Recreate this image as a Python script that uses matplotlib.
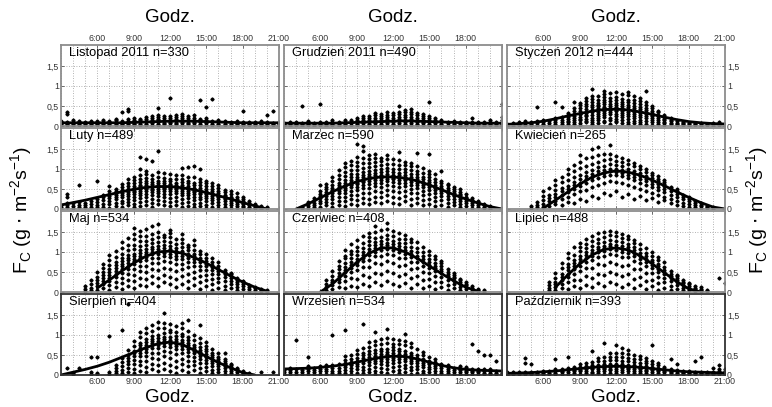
import matplotlib
matplotlib.use("Agg")
import matplotlib.pyplot as plt
from matplotlib.ticker import MultipleLocator, FixedLocator

plt.rcParams['font.family'] = ['Liberation Sans', 'DejaVu Sans']

# ---------------- data ----------------
titles = ["Listopad 2011 n=330", "Grudzień 2011 n=490", "Styczeń 2012 n=444",
          "Luty n=489", "Marzec n=590", "Kwiecień n=265",
          "Maj n=534", "Czerwiec n=408", "Lipiec n=488",
          "Sierpień n=404", "Wrzesień n=534", "Październik n=393"]

tick_hours = [6, 9, 12, 15, 18, 21]
tick_labels = ["6:00", "9:00", "12:00", "15:00", "18:00", "21:00"]
ytick_vals = [0, 0.5, 1, 1.5]
ytick_labels = ["0", "0,5", "1", "1,5"]

# fitted curves (hours, values in g m-2 s-1)
curve_hours = [3, 4, 5, 6, 7, 8, 9, 10, 11, 12, 13, 14, 15, 16, 17, 18, 19, 20, 21]
curve_lis = [0.08, 0.08, 0.08, 0.08, 0.08, 0.08, 0.09, 0.10, 0.11, 0.12, 0.12, 0.12, 0.11, 0.10, 0.09, 0.08, 0.08, 0.08, 0.08]
curve_gru = [0.07, 0.07, 0.07, 0.07, 0.07, 0.08, 0.09, 0.10, 0.11, 0.12, 0.13, 0.12, 0.11, 0.10, 0.09, 0.08, 0.07, 0.07, 0.07]
curve_sty = [0.04, 0.06, 0.08, 0.12, 0.18, 0.25, 0.31, 0.37, 0.41, 0.42, 0.40, 0.35, 0.29, 0.22, 0.16, 0.11, 0.08, 0.06, 0.05]
curve_lut = [0.10, 0.16, 0.22, 0.29, 0.36, 0.43, 0.49, 0.54, 0.56, 0.56, 0.53, 0.48, 0.41, 0.33, 0.25, 0.16, 0.08, 0.00, None]
curve_mar = [None, 0.00, 0.13, 0.28, 0.43, 0.57, 0.68, 0.76, 0.80, 0.80, 0.77, 0.70, 0.60, 0.48, 0.36, 0.25, 0.15, 0.06, 0.00]
curve_kwi = [None, None, None, 0.02, 0.22, 0.42, 0.62, 0.79, 0.90, 0.95, 0.92, 0.84, 0.72, 0.58, 0.43, 0.29, 0.16, 0.05, 0.00]
curve_maj = [None, None, None, 0.10, 0.30, 0.52, 0.72, 0.89, 1.00, 1.02, 0.97, 0.86, 0.72, 0.56, 0.40, 0.25, 0.12, 0.02, None]
curve_cze = [None, None, None, 0.00, 0.20, 0.47, 0.74, 0.96, 1.10, 1.10, 1.00, 0.84, 0.65, 0.46, 0.28, 0.12, 0.02, None, None]
curve_lip = [None, None, None, None, 0.12, 0.42, 0.70, 0.92, 1.06, 1.10, 1.05, 0.90, 0.70, 0.48, 0.26, 0.08, 0.00, None, None]
curve_sie = [0.00, 0.07, 0.14, 0.22, 0.32, 0.44, 0.56, 0.68, 0.78, 0.82, 0.76, 0.62, 0.46, 0.31, 0.18, 0.06, 0.00, None, None]
curve_wrz = [0.15, 0.16, 0.17, 0.19, 0.22, 0.26, 0.32, 0.38, 0.44, 0.47, 0.46, 0.40, 0.32, 0.24, 0.18, 0.14, 0.12, 0.11, 0.10]
curve_paz = [0.04, 0.05, 0.06, 0.08, 0.10, 0.13, 0.16, 0.19, 0.21, 0.22, 0.21, 0.19, 0.16, 0.13, 0.10, 0.08, 0.07, 0.06, 0.05]

# scatter points: (hour, [values in 0.01 g m-2 s-1])
pts_lis = [(3.0, [1, 4, 7, 10, 13]), (3.5, [2, 5, 8, 11, 29, 36]), (4.0, [1, 4, 7, 11, 16]), (4.5, [2, 6, 9, 12]),
           (5.0, [1, 4, 8, 11]), (5.5, [3, 6, 9, 13]), (6.0, [2, 5, 8, 12]), (6.5, [1, 4, 7, 10, 14]),
           (7.0, [2, 5, 9, 12]), (7.5, [3, 6, 10, 14, 17]), (8.0, [2, 5, 8, 12, 35]), (8.5, [3, 6, 9, 13, 18, 37, 42]),
           (9.0, [2, 5, 8, 12, 16, 20]), (9.5, [3, 6, 10, 14, 18]), (10.0, [2, 5, 9, 13, 17, 22]),
           (10.5, [3, 7, 11, 15, 19, 24]), (11.0, [2, 6, 10, 14, 18, 23, 28, 44]), (11.5, [4, 8, 12, 16, 21, 26]),
           (12.0, [3, 7, 11, 15, 19, 24, 69]), (12.5, [4, 8, 12, 17, 22, 27]), (13.0, [3, 7, 11, 15, 20, 25, 30]),
           (13.5, [4, 8, 12, 16, 21, 26]), (14.0, [3, 7, 11, 15, 20, 27]), (14.5, [2, 6, 10, 14, 18, 65]),
           (15.0, [3, 7, 11, 15, 20, 47]), (15.5, [2, 6, 9, 13, 67]), (16.0, [3, 6, 10, 14]), (16.5, [2, 5, 9, 12]),
           (17.0, [3, 6, 10]), (17.5, [2, 5, 8, 12]), (18.0, [3, 6, 9, 37]), (18.5, [2, 5, 8, 11]),
           (19.0, [3, 6, 10]), (19.5, [2, 5, 8, 12]), (20.0, [3, 6, 9, 27]), (20.5, [2, 5, 8, 37]), (21.0, [3, 6, 10])]
pts_gru = [(3.0, [2, 5, 8]), (3.5, [1, 4, 7, 11]), (4.0, [2, 5, 9]), (4.5, [1, 4, 8, 49]), (5.0, [2, 5, 9, 13]),
           (5.5, [1, 4, 8]), (6.0, [2, 6, 10, 54]), (6.5, [1, 5, 9]), (7.0, [2, 6, 10, 14]), (7.5, [1, 5, 9]),
           (8.0, [2, 6, 10, 14]), (8.5, [3, 7, 11, 16]), (9.0, [2, 6, 10, 14, 19]), (9.5, [3, 7, 11, 16, 21, 26]),
           (10.0, [2, 6, 10, 14, 19, 24]), (10.5, [3, 7, 11, 16, 21, 27, 32]), (11.0, [2, 6, 10, 15, 20, 25, 30]),
           (11.5, [3, 7, 12, 17, 22, 28, 34]), (12.0, [2, 6, 11, 16, 21, 27, 33]),
           (12.5, [3, 7, 12, 17, 23, 29, 36, 51]), (13.0, [2, 6, 11, 16, 22, 28, 35, 41]),
           (13.5, [3, 7, 12, 17, 23, 29, 36, 43]), (14.0, [2, 6, 11, 16, 21, 27, 33]),
           (14.5, [3, 7, 11, 15, 20, 25, 31]), (15.0, [2, 6, 10, 14, 19, 24, 60]), (15.5, [3, 7, 11, 15, 20]),
           (16.0, [2, 6, 10, 14]), (16.5, [3, 7, 11]), (17.0, [2, 5, 9, 13]), (17.5, [1, 5, 9]),
           (18.0, [2, 6, 10]), (18.5, [1, 5, 9, 20]), (19.0, [2, 6, 10]), (19.5, [1, 5, 9]), (20.0, [2, 6, 10, 14]),
           (20.5, [1, 5, 9]), (21.0, [2, 6, 10, 16, 22, 54])]
pts_sty = [(3.0, [2, 5]), (3.5, [1, 4, 8]), (4.0, [2, 6, 10]), (4.5, [3, 7, 12]), (5.0, [2, 5, 9]),
           (5.5, [3, 7, 12, 47]), (6.0, [2, 6, 10, 15]), (6.5, [3, 8, 13]), (7.0, [4, 9, 14, 20, 59]),
           (7.5, [5, 10, 16, 22, 47]), (8.0, [4, 9, 13, 18, 22, 27, 33]), (8.5, [6, 10, 15, 19, 26, 30, 38, 45, 60]),
           (9.0, [3, 8, 14, 17, 23, 29, 31, 37, 44, 52, 58]), (9.5, [9, 12, 18, 24, 27, 33, 36, 42, 49, 55, 63, 70]),
           (10.0, [5, 11, 16, 21, 28, 34, 39, 41, 47, 53, 61, 67, 76, 92]),
           (10.5, [8, 14, 19, 25, 31, 36, 40, 44, 49, 52, 58, 66, 74]),
           (11.0, [10, 13, 22, 27, 33, 38, 41, 45, 48, 54, 59, 65, 72, 80, 88]),
           (11.5, [6, 15, 21, 29, 34, 39, 43, 46, 51, 56, 63, 70, 82]),
           (12.0, [9, 12, 18, 26, 31, 37, 40, 44, 47, 53, 57, 64, 73, 85]),
           (12.5, [7, 14, 22, 28, 33, 38, 42, 45, 50, 55, 61, 68, 80]),
           (13.0, [5, 11, 17, 24, 30, 35, 39, 43, 48, 52, 59, 66, 78, 86]),
           (13.5, [8, 13, 20, 25, 31, 36, 40, 45, 51, 58, 66, 74]),
           (14.0, [4, 10, 16, 22, 27, 33, 37, 42, 47, 55, 63, 70]),
           (14.5, [6, 12, 19, 24, 29, 34, 39, 45, 52, 60, 88]), (15.0, [3, 9, 14, 20, 24, 28, 33, 38, 44, 50]),
           (15.5, [5, 10, 15, 19, 24, 28, 34, 38]), (16.0, [2, 7, 11, 14, 18, 22, 28]), (16.5, [4, 8, 12, 15, 19]),
           (17.0, [2, 5, 8, 12]), (17.5, [2, 4, 7, 10]), (18.0, [1, 4, 7]), (18.5, [2, 5, 8]), (19.0, [1, 4, 7]),
           (19.5, [2, 5]), (20.0, [1, 4, 7]), (20.5, [2, 5, 9]), (21.0, [1, 4])]
pts_lut = [(3.0, [5, 10]), (3.5, [4, 9, 16, 31, 37]), (4.0, [3, 8, 14]), (4.5, [5, 11, 18, 60]),
           (5.0, [4, 9, 15]), (5.5, [5, 12, 20]), (6.0, [4, 10, 17, 25, 69]), (6.5, [6, 13, 22, 30, 36]),
           (7.0, [3, 12, 20, 27, 33, 38, 44, 58]), (7.5, [7, 15, 24, 31, 36, 40, 46, 50]),
           (8.0, [5, 14, 21, 29, 35, 40, 44, 48, 55, 62]), (8.5, [9, 18, 26, 33, 38, 43, 47, 51, 57, 66, 75]),
           (9.0, [4, 12, 22, 30, 37, 42, 46, 50, 53, 58, 64, 72, 80]),
           (9.5, [8, 17, 27, 35, 41, 46, 49, 53, 57, 61, 67, 75, 84, 100, 130]),
           (10.0, [11, 20, 30, 38, 44, 49, 52, 55, 59, 64, 70, 78, 88, 96, 124]),
           (10.5, [6, 16, 26, 36, 43, 48, 51, 54, 58, 62, 68, 76, 86, 120]),
           (11.0, [12, 22, 32, 40, 46, 50, 54, 57, 60, 65, 71, 80, 92, 145]),
           (11.5, [9, 19, 29, 38, 45, 50, 53, 56, 60, 64, 70, 78, 90]),
           (12.0, [7, 17, 28, 37, 44, 49, 53, 56, 59, 63, 69, 76, 88]),
           (12.5, [10, 21, 31, 39, 45, 50, 53, 57, 61, 66, 74, 86]),
           (13.0, [5, 15, 25, 34, 41, 46, 50, 53, 56, 61, 67, 75, 84, 103]),
           (13.5, [8, 18, 27, 35, 41, 45, 49, 53, 58, 64, 71, 81, 105]),
           (14.0, [4, 13, 22, 30, 37, 42, 46, 49, 53, 59, 66, 79, 108]),
           (14.5, [7, 16, 24, 31, 37, 41, 44, 48, 53, 60, 68, 75, 100]),
           (15.0, [3, 11, 19, 27, 33, 38, 41, 45, 50, 57, 64, 70]),
           (15.5, [6, 14, 22, 28, 33, 37, 40, 44, 51, 58, 65]), (16.0, [2, 9, 17, 24, 29, 33, 36, 40, 46, 52, 60]),
           (16.5, [5, 12, 19, 24, 28, 32, 36, 42, 48]), (17.0, [3, 9, 15, 20, 24, 27, 31, 37, 44]),
           (17.5, [2, 7, 12, 17, 21, 25, 30, 40]), (18.0, [4, 8, 12, 15, 19, 24, 30]), (18.5, [2, 6, 9, 13, 16, 20]),
           (19.0, [3, 6, 9, 13]), (19.5, [1, 4, 7]), (20.0, [2, 5])]
pts_mar = [(4.5, [2, 6]), (5.0, [3, 8, 12, 18]), (5.5, [4, 10, 16, 22, 27]), (6.0, [6, 14, 21, 27, 32, 38, 45, 60]),
           (6.5, [9, 17, 26, 32, 37, 42, 49, 55, 62]), (7.0, [5, 15, 25, 33, 39, 44, 48, 53, 60, 69, 80]),
           (7.5, [11, 21, 31, 39, 45, 50, 54, 59, 66, 75, 86, 98]),
           (8.0, [8, 19, 30, 40, 48, 53, 57, 61, 66, 73, 82, 92, 104, 115]),
           (8.5, [13, 25, 36, 46, 54, 59, 63, 67, 72, 79, 88, 98, 110, 120]),
           (9.0, [10, 22, 35, 47, 56, 62, 66, 70, 74, 80, 88, 97, 108, 118, 130, 162]),
           (9.5, [15, 28, 41, 52, 61, 67, 71, 75, 79, 85, 93, 103, 114, 128, 145, 157]),
           (10.0, [12, 26, 40, 52, 62, 69, 74, 78, 82, 88, 95, 104, 115, 125, 135]),
           (10.5, [18, 31, 45, 57, 66, 72, 77, 81, 85, 90, 98, 107, 118, 128, 137]),
           (11.0, [14, 29, 43, 56, 66, 73, 78, 82, 86, 92, 100, 110, 120, 127]),
           (11.5, [20, 34, 48, 60, 69, 75, 79, 83, 87, 94, 103, 113, 125, 135]),
           (12.0, [16, 30, 45, 58, 67, 74, 78, 82, 86, 92, 101, 112, 125]),
           (12.5, [13, 27, 42, 55, 65, 72, 77, 80, 84, 90, 99, 110, 123, 142]),
           (13.0, [19, 33, 46, 57, 66, 72, 76, 80, 85, 92, 101, 110, 118]),
           (13.5, [11, 25, 39, 51, 61, 67, 72, 76, 81, 88, 97, 108, 115]),
           (14.0, [15, 28, 41, 52, 60, 66, 70, 74, 80, 87, 95, 108, 140]),
           (14.5, [9, 22, 34, 45, 54, 60, 64, 68, 74, 81, 90, 102]),
           (15.0, [13, 25, 37, 47, 54, 59, 63, 67, 73, 80, 88, 95, 136]),
           (15.5, [7, 19, 30, 40, 47, 52, 56, 61, 67, 75, 88]), (16.0, [11, 22, 32, 40, 45, 49, 53, 58, 64, 70, 94]),
           (16.5, [5, 15, 25, 33, 39, 43, 47, 53, 59, 63]), (17.0, [9, 18, 26, 32, 36, 40, 44, 50, 56]),
           (17.5, [4, 12, 20, 26, 31, 34, 38, 43, 50]), (18.0, [7, 14, 20, 24, 27, 31, 38]),
           (18.5, [3, 9, 15, 19, 23, 27]), (19.0, [5, 10, 14, 17, 19]), (19.5, [2, 6, 9, 12]), (20.0, [1, 4, 7])]
pts_kwi = [(5.0, [3, 8]), (5.5, [4, 10, 18]), (6.0, [5, 13, 22, 32, 45]), (6.5, [8, 19, 28, 36, 52]),
           (7.0, [12, 21, 30, 38, 47, 60, 72]), (7.5, [9, 25, 35, 44, 53, 67, 80]),
           (8.0, [18, 31, 42, 50, 58, 73, 88, 100]), (8.5, [14, 37, 50, 60, 68, 79, 95, 110]),
           (9.0, [25, 44, 57, 66, 74, 85, 102, 118, 135]), (9.5, [20, 48, 64, 74, 82, 92, 108, 126]),
           (10.0, [33, 56, 72, 81, 88, 97, 112, 130, 150]), (10.5, [28, 60, 78, 87, 94, 104, 118, 134, 155]),
           (11.0, [40, 66, 83, 91, 98, 108, 122, 136]), (11.5, [35, 70, 86, 94, 101, 111, 125, 138, 160]),
           (12.0, [44, 68, 85, 93, 99, 109, 120, 133]), (12.5, [30, 64, 82, 90, 97, 106, 117, 128]),
           (13.0, [38, 61, 78, 86, 93, 101, 112, 122]), (13.5, [26, 55, 72, 81, 88, 96, 106, 115]),
           (14.0, [32, 50, 66, 75, 82, 90, 99, 108]), (14.5, [22, 44, 60, 69, 76, 83, 92, 100]),
           (15.0, [28, 40, 54, 63, 70, 77, 84, 90]), (15.5, [18, 34, 48, 56, 63, 70, 76, 82]),
           (16.0, [22, 30, 42, 50, 57, 63, 68, 72]), (16.5, [14, 26, 36, 44, 50, 56]),
           (17.0, [10, 20, 30, 38, 44, 49]), (17.5, [8, 16, 24, 30, 35]), (18.0, [5, 12, 19, 25, 30]),
           (18.5, [4, 9, 14, 19]), (19.0, [3, 7, 11, 15]), (19.5, [2, 5, 8]), (20.0, [1, 4])]
pts_maj = [(5.0, [3, 8, 15]), (5.5, [4, 11, 20, 30]), (6.0, [6, 15, 23, 30, 38, 50]),
           (6.5, [10, 19, 27, 35, 42, 51, 60, 70]), (7.0, [5, 18, 28, 36, 43, 50, 58, 67, 79, 92]),
           (7.5, [12, 25, 37, 46, 53, 60, 67, 75, 87, 102]),
           (8.0, [8, 22, 36, 48, 57, 64, 70, 77, 85, 96, 110, 125]),
           (8.5, [15, 30, 44, 57, 66, 73, 79, 85, 93, 104, 118, 135]),
           (9.0, [11, 27, 43, 58, 69, 77, 83, 89, 96, 106, 118, 132, 144, 160]),
           (9.5, [18, 35, 52, 66, 77, 85, 91, 97, 104, 114, 126, 140, 152]),
           (10.0, [14, 32, 50, 66, 79, 88, 94, 100, 107, 117, 128, 140, 158]),
           (10.5, [22, 40, 58, 73, 85, 94, 100, 106, 113, 122, 133, 145, 165]),
           (11.0, [16, 36, 55, 72, 86, 95, 101, 107, 114, 124, 136, 150, 170]),
           (11.5, [24, 43, 61, 77, 89, 97, 103, 109, 116, 126, 138, 142]),
           (12.0, [19, 38, 57, 74, 87, 96, 102, 108, 115, 125, 137, 148, 155]),
           (12.5, [13, 33, 52, 69, 82, 91, 97, 103, 110, 120, 133]),
           (13.0, [21, 40, 57, 71, 83, 91, 97, 103, 111, 121, 133, 145]),
           (13.5, [10, 28, 46, 62, 75, 84, 90, 96, 104, 112, 118]),
           (14.0, [17, 34, 50, 64, 75, 83, 89, 95, 104, 116, 130]),
           (14.5, [8, 25, 41, 55, 66, 74, 80, 86, 94, 102]), (15.0, [14, 29, 43, 55, 64, 71, 77, 84, 94]),
           (15.5, [6, 20, 33, 45, 55, 62, 68, 76, 84]), (16.0, [11, 24, 36, 46, 53, 58, 64, 75]),
           (16.5, [5, 16, 27, 37, 44, 50, 56]), (17.0, [9, 19, 28, 35, 40, 44, 48]),
           (17.5, [4, 12, 20, 26, 30, 34]), (18.0, [7, 14, 20, 24, 28]), (18.5, [3, 8, 13, 18]),
           (19.0, [5, 9, 12]), (19.5, [2, 5, 8]), (20.0, [1, 4])]
pts_cze = [(6.5, [5, 12, 20, 30]), (7.0, [8, 17, 24, 31, 40, 52]), (7.5, [12, 24, 33, 41, 48, 58, 64, 78]),
           (8.0, [9, 28, 40, 49, 56, 63, 72, 85, 91, 105]), (8.5, [16, 35, 50, 60, 68, 75, 84, 95, 103, 120]),
           (9.0, [12, 33, 55, 68, 76, 83, 92, 102, 112, 130]), (9.5, [20, 42, 63, 77, 86, 93, 101, 110, 121, 140]),
           (10.0, [15, 38, 62, 80, 92, 100, 107, 116, 126, 138, 147]),
           (10.5, [24, 48, 72, 89, 101, 109, 116, 124, 134, 150, 165]),
           (11.0, [18, 44, 70, 90, 104, 112, 119, 127, 137, 155]),
           (11.5, [27, 52, 77, 95, 108, 116, 123, 131, 142, 156, 172]),
           (12.0, [21, 47, 73, 92, 105, 113, 120, 128, 139, 153]),
           (12.5, [14, 40, 66, 86, 99, 107, 114, 122, 133, 148]),
           (13.0, [23, 46, 68, 85, 96, 104, 111, 121, 132, 141]),
           (13.5, [11, 35, 58, 76, 88, 96, 103, 113, 124, 133]), (14.0, [19, 39, 59, 74, 84, 91, 99, 110, 124]),
           (14.5, [9, 30, 50, 65, 75, 82, 90, 100, 113]), (15.0, [16, 32, 48, 60, 68, 75, 83, 93, 102]),
           (15.5, [7, 24, 40, 52, 60, 66, 73, 82, 90]), (16.0, [13, 26, 38, 47, 53, 58, 64, 72, 78]),
           (16.5, [5, 18, 30, 39, 45, 50, 57]), (17.0, [10, 20, 28, 34, 38, 43, 47]),
           (17.5, [4, 12, 19, 25, 29, 32]), (18.0, [7, 13, 18, 21, 26]), (18.5, [3, 7, 11, 15]), (19.0, [2, 5, 8]),
           (19.5, [1, 4])]
pts_lip = [(6.5, [4, 10, 17, 25]), (7.0, [6, 12, 19, 26, 36, 47]), (7.5, [10, 20, 29, 37, 46, 59, 72]),
           (8.0, [7, 24, 37, 46, 54, 62, 70, 85, 98]), (8.5, [14, 31, 46, 57, 65, 72, 80, 92, 112]),
           (9.0, [10, 30, 52, 66, 75, 82, 90, 102, 112, 122]), (9.5, [18, 40, 61, 76, 86, 93, 100, 110, 120, 132]),
           (10.0, [13, 36, 60, 80, 91, 98, 105, 114, 126, 140]),
           (10.5, [22, 46, 70, 88, 99, 106, 112, 121, 133, 146]),
           (11.0, [16, 42, 68, 89, 102, 109, 115, 124, 136, 150]),
           (11.5, [25, 50, 75, 95, 107, 114, 120, 129, 141, 152]),
           (12.0, [19, 45, 71, 92, 105, 112, 118, 127, 139, 150]),
           (12.5, [12, 39, 66, 88, 101, 108, 115, 124, 135, 145]),
           (13.0, [21, 44, 67, 87, 98, 105, 111, 120, 131, 140]),
           (13.5, [9, 33, 57, 78, 90, 97, 104, 113, 122, 130]), (14.0, [17, 37, 57, 73, 83, 90, 97, 106, 120]),
           (14.5, [8, 28, 48, 64, 75, 82, 89, 98, 110]), (15.0, [14, 31, 47, 60, 68, 74, 81, 90, 100]),
           (15.5, [6, 22, 38, 50, 58, 64, 71, 80, 88]), (16.0, [11, 24, 36, 44, 50, 55, 62, 74]),
           (16.5, [5, 16, 27, 35, 41, 46, 53]), (17.0, [8, 17, 24, 30, 34, 39, 43]),
           (17.5, [4, 11, 17, 22, 26, 29]), (18.0, [6, 11, 15, 19, 23]), (18.5, [3, 7, 11, 15]),
           (19.0, [2, 5, 8, 12]), (19.5, [2, 5]), (20.5, [35]), (21.0, [22])]
pts_sie = [(3.5, [18]), (4.0, [2, 6]), (4.5, [18]), (5.5, [3, 8, 45]), (6.0, [2, 6, 45]), (7.0, [3, 8, 98]),
           (7.5, [4, 10, 17, 25]), (8.0, [5, 13, 22, 32, 42, 113]), (8.5, [7, 17, 28, 36, 43, 50, 62, 178]),
           (9.0, [4, 15, 27, 38, 47, 54, 60, 73, 86]), (9.5, [11, 24, 36, 47, 56, 62, 68, 74, 81, 95, 108]),
           (10.0, [7, 20, 34, 47, 58, 66, 71, 76, 82, 89, 104, 118]),
           (10.5, [14, 28, 43, 56, 67, 74, 79, 84, 90, 97, 110, 125]),
           (11.0, [9, 24, 40, 55, 68, 76, 81, 86, 92, 99, 116, 132]),
           (11.5, [16, 31, 47, 61, 72, 79, 84, 89, 95, 104, 116, 130, 155]),
           (12.0, [11, 26, 42, 57, 70, 78, 83, 88, 95, 106, 113, 128]),
           (12.5, [6, 20, 36, 52, 65, 73, 78, 84, 90, 98, 108, 122]),
           (13.0, [13, 27, 41, 55, 66, 72, 77, 82, 88, 97, 102, 118, 130]),
           (13.5, [8, 22, 35, 48, 58, 65, 70, 75, 81, 88, 95, 110, 138]),
           (14.0, [12, 24, 36, 46, 54, 60, 64, 69, 75, 88, 100]),
           (14.5, [5, 17, 29, 39, 47, 52, 57, 63, 69, 81, 92, 125]),
           (15.0, [9, 20, 30, 38, 44, 48, 53, 59, 66, 72, 82]), (15.5, [4, 13, 22, 30, 36, 41, 45, 50, 55, 64]),
           (16.0, [7, 15, 22, 28, 32, 35, 40, 46, 54]), (16.5, [3, 10, 17, 23, 27, 30, 34, 40, 55]),
           (17.0, [5, 11, 16, 20, 24, 28]), (17.5, [2, 7, 12, 16, 18]), (18.0, [2, 6, 10]), (18.5, [2, 5]),
           (19.5, [8]), (20.5, [8])]
pts_wrz = [(3.0, [3, 8, 13]), (3.5, [2, 7, 12, 18]), (4.0, [3, 8, 14, 87]), (4.5, [2, 7, 12]),
           (5.0, [3, 9, 15, 22, 46]), (5.5, [2, 8, 13, 18]), (6.0, [3, 9, 15, 22]), (6.5, [3, 9, 16, 24]),
           (7.0, [4, 10, 17, 25, 101]), (7.5, [4, 11, 18, 27]), (8.0, [5, 12, 20, 26, 29, 38, 47, 112]),
           (8.5, [3, 10, 17, 24, 28, 33, 41, 50]), (9.0, [6, 14, 22, 28, 32, 36, 43, 53, 63]),
           (9.5, [4, 12, 21, 29, 34, 38, 42, 49, 56, 67, 126]), (10.0, [7, 16, 25, 32, 37, 41, 45, 52, 60, 71, 82]),
           (10.5, [3, 11, 20, 29, 36, 41, 44, 48, 55, 63, 75, 86, 107]),
           (11.0, [8, 18, 27, 35, 41, 45, 48, 53, 60, 66, 78, 90]),
           (11.5, [5, 14, 24, 33, 40, 45, 49, 53, 58, 66, 79, 92, 115]),
           (12.0, [9, 19, 29, 37, 43, 47, 50, 55, 62, 70, 78, 90]),
           (12.5, [4, 13, 23, 32, 39, 44, 48, 52, 59, 65, 77, 88]),
           (13.0, [7, 17, 26, 34, 40, 44, 48, 53, 61, 74, 85, 103]),
           (13.5, [3, 12, 21, 29, 35, 40, 44, 49, 55, 70, 80]), (14.0, [6, 15, 23, 30, 35, 39, 43, 50, 64]),
           (14.5, [4, 11, 19, 26, 31, 35, 40, 49, 58]), (15.0, [7, 14, 21, 27, 31, 35, 44]),
           (15.5, [3, 10, 17, 23, 27, 32, 40]), (16.0, [5, 11, 17, 22, 25, 28]), (16.5, [4, 9, 14, 19, 24]),
           (17.0, [3, 8, 13, 18]), (17.5, [3, 8, 12, 16, 22]), (18.0, [3, 7, 11, 15, 19]),
           (18.5, [3, 7, 11, 15, 78]), (19.0, [3, 7, 11, 16, 61]), (19.5, [3, 6, 10, 14, 50]),
           (20.0, [3, 6, 10, 14, 50]), (20.5, [3, 6, 10, 34]), (21.0, [3, 6, 10])]
pts_paz = [(3.0, [2, 5, 8]), (3.5, [2, 5, 8]), (4.0, [2, 5, 8]), (4.5, [2, 5, 8, 30, 42]), (5.0, [2, 5, 8, 28]),
           (5.5, [2, 5, 8]), (6.0, [2, 5, 9]), (6.5, [2, 6, 10]), (7.0, [3, 6, 10, 14, 40]), (7.5, [3, 7, 11, 15]),
           (8.0, [3, 7, 12, 17, 46]), (8.5, [5, 9, 13, 19]), (9.0, [3, 9, 13, 17, 21, 27]),
           (9.5, [6, 10, 16, 19, 23, 30]), (10.0, [4, 8, 14, 17, 21, 25, 33, 61]),
           (10.5, [5, 11, 15, 19, 22, 26, 34, 42]), (11.0, [3, 9, 14, 18, 21, 24, 27, 36, 45, 80]),
           (11.5, [6, 12, 16, 20, 23, 28, 37, 46, 55]), (12.0, [4, 10, 15, 19, 22, 25, 28, 37, 46, 56, 76]),
           (12.5, [7, 12, 17, 20, 23, 27, 36, 45, 54, 67]), (13.0, [3, 9, 14, 18, 21, 26, 34, 43, 52, 62]),
           (13.5, [6, 11, 16, 19, 22, 25, 33, 41, 50]), (14.0, [4, 10, 14, 18, 21, 23, 31, 39, 47]),
           (14.5, [5, 9, 13, 17, 20, 22, 29, 36, 43]), (15.0, [3, 8, 12, 16, 19, 27, 34, 76]),
           (15.5, [5, 9, 13, 16, 18, 24, 30]), (16.0, [3, 7, 11, 14, 16, 21]), (16.5, [4, 8, 11, 14, 40]),
           (17.0, [3, 6, 9, 13, 28]), (17.5, [2, 5, 8, 11]), (18.0, [2, 5, 8, 11]), (18.5, [2, 5, 8, 34]),
           (19.0, [2, 5, 8, 44]), (19.5, [2, 5, 8]), (20.0, [2, 5, 8, 18]), (20.5, [2, 6, 10, 16, 25]),
           (21.0, [2, 6, 10, 16])]

curves = [curve_lis, curve_gru, curve_sty, curve_lut, curve_mar, curve_kwi,
          curve_maj, curve_cze, curve_lip, curve_sie, curve_wrz, curve_paz]
points = [pts_lis, pts_gru, pts_sty, pts_lut, pts_mar, pts_kwi,
          pts_maj, pts_cze, pts_lip, pts_sie, pts_wrz, pts_paz]

# ---------------- layout ----------------
W, H = 772, 407
fig = plt.figure(figsize=(W / 100, H / 100), dpi=100)
col_left = [61, 284, 507]
col_w = 218
row_top = [45, 128, 211, 294]
row_h = 81

tick_color = "#333333"
for i in range(12):
    r, c = divmod(i, 3)
    ax = fig.add_axes([col_left[c] / W, 1 - (row_top[r] + row_h) / H, col_w / W, row_h / H])
    ax.set_xlim(3, 21)
    ax.set_ylim(0, 2.02)
    ax.xaxis.set_major_locator(FixedLocator(tick_hours))
    ax.xaxis.set_minor_locator(MultipleLocator(1))
    ax.yaxis.set_major_locator(FixedLocator(ytick_vals))
    ax.grid(True, which='both', axis='x', linestyle=(0, (1, 2)), color="#9a9a9a", linewidth=0.6)
    ax.grid(True, which='major', axis='y', linestyle=(0, (1, 2)), color="#9a9a9a", linewidth=0.6)
    ax.tick_params(which='both', direction='in', length=2.5, width=0.6, color="#555555",
                   labelsize=6.3, labelcolor=tick_color, pad=1.5)
    ax.tick_params(which='minor', length=0)
    ax.set_axisbelow(True)

    ax.xaxis.set_ticklabels(tick_labels if c != 1 else tick_labels[:-1] + [""])
    if r == 0:
        ax.tick_params(axis='x', which='both', top=True, labeltop=True, bottom=True, labelbottom=False)
    elif r == 3:
        ax.tick_params(axis='x', which='both', top=True, labeltop=False, bottom=True, labelbottom=True)
    else:
        ax.tick_params(axis='x', which='both', top=True, labeltop=False, bottom=True, labelbottom=False)
    ax.set_yticklabels(ytick_labels)
    if c == 0:
        ax.tick_params(axis='y', left=True, right=True, labelleft=True, labelright=False)
    elif c == 2:
        ax.tick_params(axis='y', left=True, right=True, labelleft=False, labelright=True)
    else:
        ax.tick_params(axis='y', left=True, right=True, labelleft=False, labelright=False)

    edge = "#8c8c8c" if r < 3 else "#333333"
    for s in ax.spines.values():
        s.set_color(edge)
        s.set_linewidth(1.3)

    xs, ys = [], []
    for hr, vals in points[i]:
        for v in vals:
            xs.append(hr)
            ys.append(v / 100.0)
    ax.plot(xs, ys, linestyle='none', marker='D', markersize=1.6, color='black', clip_on=True)

    ch = [h for h, v in zip(curve_hours, curves[i]) if v is not None]
    cv = [v for v in curves[i] if v is not None]
    ax.plot(ch, cv, color='black', linewidth=2.0, solid_capstyle='round')

    ax.text(0.035, 0.97, titles[i], transform=ax.transAxes, ha='left', va='top', fontsize=9.3,
            color='black')

for c in range(3):
    xc = (col_left[c] + col_w / 2) / W
    fig.text(xc, 1 - 17 / H, "Godz.", ha='center', va='center', fontsize=13.5)
    fig.text(xc, 1 - 397 / H, "Godz.", ha='center', va='center', fontsize=13.5)

ylab = r"F$_\mathregular{C}$ (g $\cdot$ m$^\mathregular{-2}$s$^\mathregular{-1}$)"
fig.text(22 / W, 1 - 210 / H, ylab, rotation=90, ha='center', va='center', fontsize=14)
fig.text(758 / W, 1 - 210 / H, ylab, rotation=90, ha='center', va='center', fontsize=14)

fig.savefig("out.png", dpi=100)
